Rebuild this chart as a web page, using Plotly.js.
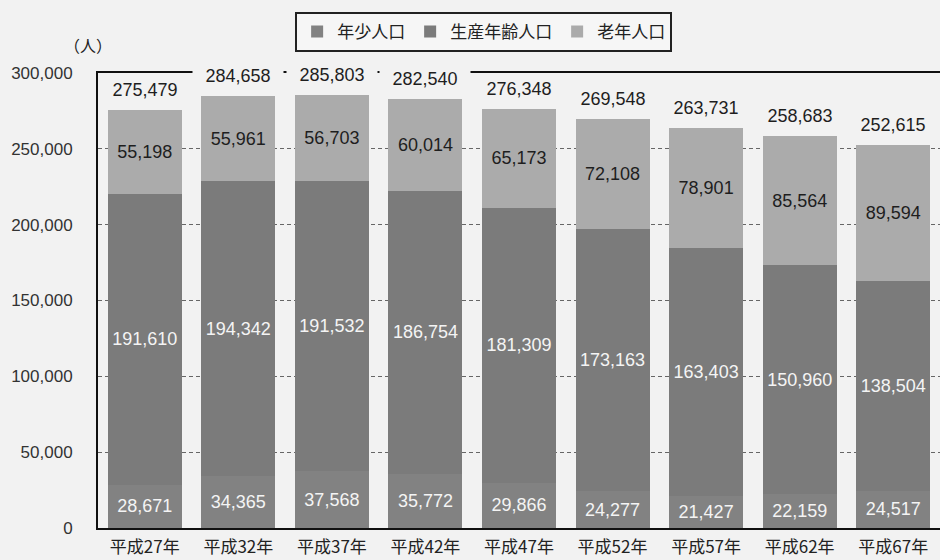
<!DOCTYPE html>
<html>
<head>
<meta charset="utf-8">
<script src="https://cdn.plot.ly/plotly-3.0.1.min.js"></script>
<style>html,body{margin:0;padding:0;background:#f2f2f2;}#chart{width:940px;height:560px;}</style>
</head>
<body>
<div id="chart"></div>
<script>
const categories = ['平成27年','平成32年','平成37年','平成42年','平成47年','平成52年','平成57年','平成62年','平成67年'];
const young   = [28671, 34365, 37568, 35772, 29866, 24277, 21427, 22159, 24517];
const working = [191610, 194342, 191532, 186754, 181309, 173163, 163403, 150960, 138504];
const old     = [55198, 55961, 56703, 60014, 65173, 72108, 78901, 85564, 89594];
const totals  = [275479, 284658, 285803, 282540, 276348, 269548, 263731, 258683, 252615];
const seriesNames = ['年少人口','生産年齢人口','老年人口'];
const yTicks = [0, 50000, 100000, 150000, 200000, 250000, 300000];

const numFont = 'Liberation Sans, Arial, sans-serif';
const cjkFont = '"Noto Sans CJK JP", "Noto Sans CJK SC", sans-serif';
const bg = '#f2f2f2';

function barTrace(name, vals, color, textColor) {
  return {
    type: 'bar', name: name, x: categories, y: vals,
    marker: {color: color, line: {width: 0}},
    texttemplate: '%{y:,d}', textposition: 'inside', insidetextanchor: 'middle',
    constraintext: 'none',
    textfont: {family: numFont, size: 18, color: textColor},
    hoverinfo: 'skip'
  };
}

const data = [
  barTrace(seriesNames[0], young, '#828282', '#f4f4f4'),
  barTrace(seriesNames[1], working, '#7b7b7b', '#f4f4f4'),
  barTrace(seriesNames[2], old, '#ababab', '#1e1e1e')
];

const annotations = categories.map((c, i) => ({
  x: c, y: totals[i], xref: 'x', yref: 'y',
  text: totals[i].toLocaleString('en-US'),
  showarrow: false, yanchor: 'bottom', yshift: 8,
  width: 88, borderpad: 1, bgcolor: bg,
  font: {family: numFont, size: 18, color: '#1e1e1e'}
}));
annotations.push({
  xref: 'paper', yref: 'paper', x: -0.012, y: 1.0615,
  text: '（人）', showarrow: false, xanchor: 'center', yanchor: 'middle',
  font: {family: cjkFont, size: 16, color: '#222'}
});

const layout = {
  width: 940, height: 560,
  margin: {l: 98, r: 0, t: 73, b: 32},
  paper_bgcolor: bg, plot_bgcolor: bg,
  barmode: 'stack', bargap: 0.21,
  showlegend: true,
  legend: {
    orientation: 'h', x: 0.458, xanchor: 'center', y: 1.134, yanchor: 'top',
    traceorder: 'normal', bgcolor: '#f6f6f6', bordercolor: '#222', borderwidth: 2,
    font: {family: cjkFont, size: 17, color: '#222'}
  },
  xaxis: {
    type: 'category', range: [-0.5, 8.5],
    showline: true, mirror: true, linecolor: '#111', linewidth: 2,
    showgrid: false, zeroline: false,
    ticks: 'outside', ticklen: 3, tickcolor: 'rgba(0,0,0,0)',
    tickfont: {family: cjkFont, size: 17, color: '#222'}
  },
  yaxis: {
    range: [0, 300000], tickvals: yTicks, tickformat: ',d',
    showline: true, mirror: false, linecolor: '#111', linewidth: 2,
    showgrid: true, gridcolor: '#666', griddash: '4px,3px', gridwidth: 1,
    zeroline: false,
    ticks: 'outside', ticklen: 20, tickcolor: 'rgba(0,0,0,0)',
    tickfont: {family: numFont, size: 17, color: '#333'}
  },
  annotations: annotations
};

Plotly.newPlot('chart', data, layout, {displayModeBar: false, staticPlot: true});
</script>
</body>
</html>
